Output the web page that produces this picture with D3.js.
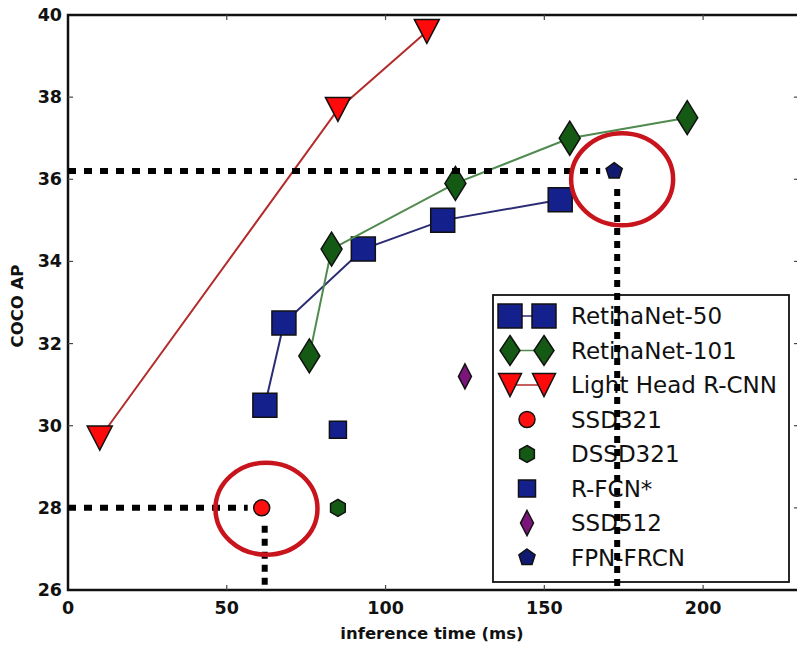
<!DOCTYPE html>
<meta charset="utf-8">
<style>
body { margin: 0; background: #fff; }
text { font-family: "DejaVu Sans", sans-serif; fill: #111; }
.tick-label { font-size: 17.5px; font-weight: bold; }
.axis-title { font-size: 16.5px; font-weight: bold; }
.legend-label { font-size: 23px; }
</style>
<svg width="797" height="647"></svg>
<script src="https://d3js.org/d3.v7.min.js"></script>
<script>

// data: inference time (ms), COCO AP
var r50_time = [62, 68, 93, 118, 155],
    r50_ap   = [30.5, 32.5, 34.3, 35.0, 35.5];
var r101_time = [76, 83, 122, 158, 195],
    r101_ap   = [31.7, 34.3, 35.9, 37.0, 37.5];
var lh_time = [10, 85, 113],
    lh_ap   = [29.7, 37.7, 39.6];

var single_names = ["SSD321", "DSSD321", "R-FCN*", "SSD512", "FPN-FRCN"],
    single_time  = [61, 85, 85, 125, 172],
    single_ap    = [28.0, 28.0, 29.9, 31.2, 36.2];

var legend_names = ["RetinaNet-50", "RetinaNet-101", "Light Head R-CNN",
                    "SSD321", "DSSD321", "R-FCN*", "SSD512", "FPN-FRCN"];

var x_ticks = [0, 50, 100, 150, 200],
    y_ticks = [26, 28, 30, 32, 34, 36, 38, 40];

// the two highlighted results, and where their red rings sit
var marked    = ["SSD321", "FPN-FRCN"],
    ring_time = [62.5, 174.5],
    ring_ap   = [27.98, 36.0];

var svg = d3.select("svg");

var x = d3.scaleLinear().domain([0, 230.2]).range([68, 799]),
    y = d3.scaleLinear().domain([26, 40]).range([590, 15]);

// marker shapes
function square(s) { return "M" + (-s/2) + "," + (-s/2) + "h" + s + "v" + s + "h" + (-s) + "Z"; }
function thinDiamond(w, h) { return "M0," + (-h/2) + "L" + (w/2) + ",0L0," + (h/2) + "L" + (-w/2) + ",0Z"; }
function triDown(w, h) { return "M" + (-w/2) + "," + (-h/2) + "L" + (w/2) + "," + (-h/2) + "L0," + (h/2) + "Z"; }
function poly(n, r, rot) {
  var p = [];
  for (var i = 0; i < n; i++) {
    var a = rot + i * 2 * Math.PI / n;
    p.push([r * Math.cos(a), r * Math.sin(a)]);
  }
  return "M" + p.map(function(d) { return d[0].toFixed(2) + "," + d[1].toFixed(2); }).join("L") + "Z";
}
function circle(r) { return "M" + r + ",0A" + r + "," + r + " 0 1,1 " + (-r) + ",0A" + r + "," + r + " 0 1,1 " + r + ",0Z"; }

var styles = {
  "RetinaNet-50":     { d: square(24),          fill: "#14208c", line: "#2c2c74" },
  "RetinaNet-101":    { d: thinDiamond(21, 34), fill: "#145a14", line: "#4f8a4f" },
  "Light Head R-CNN": { d: triDown(25, 24),     fill: "#ff0a0a", line: "#b32b2b" },
  "SSD321":           { d: circle(8),           fill: "#ff1010" },
  "DSSD321":          { d: poly(6, 8.5, -Math.PI/2), fill: "#145a14" },
  "R-FCN*":           { d: square(17),          fill: "#14208c" },
  "SSD512":           { d: thinDiamond(13, 25), fill: "#7a167a" },
  "FPN-FRCN":         { d: poly(5, 8.5, -Math.PI/2), fill: "#101a70" }
};
var legend_d = {
  "RetinaNet-50": square(24), "RetinaNet-101": thinDiamond(20, 30),
  "Light Head R-CNN": triDown(23, 23)
};

// spines
svg.append("rect")
    .attr("x", x(0)).attr("y", y(40))
    .attr("width", x(230.2) - x(0)).attr("height", y(26) - y(40))
    .attr("fill", "none").attr("stroke", "#111").attr("stroke-width", 2.5);

// inside ticks on all four sides
x_ticks.slice(1).forEach(function(t) {
  svg.append("line").attr("x1", x(t)).attr("x2", x(t)).attr("y1", y(26)).attr("y2", y(26) - 5)
      .attr("stroke", "#444").attr("stroke-width", 1.2);
  svg.append("line").attr("x1", x(t)).attr("x2", x(t)).attr("y1", y(40)).attr("y2", y(40) + 5)
      .attr("stroke", "#444").attr("stroke-width", 1.2);
});
y_ticks.slice(1, -1).forEach(function(t) {
  svg.append("line").attr("x1", x(0)).attr("x2", x(0) + 5).attr("y1", y(t)).attr("y2", y(t))
      .attr("stroke", "#444").attr("stroke-width", 1.2);
  svg.append("line").attr("x1", x(230.2)).attr("x2", x(230.2) - 5).attr("y1", y(t)).attr("y2", y(t))
      .attr("stroke", "#444").attr("stroke-width", 1.2);
});

svg.selectAll(".xl").data(x_ticks).enter().append("text")
    .attr("class", "tick-label")
    .attr("x", function(d) { return x(d); }).attr("y", 614)
    .attr("text-anchor", "middle")
    .text(function(d) { return d; });

svg.selectAll(".yl").data(y_ticks).enter().append("text")
    .attr("class", "tick-label")
    .attr("x", 62).attr("y", function(d) { return y(d) + 6; })
    .attr("text-anchor", "end")
    .text(function(d) { return d; });

svg.append("text").attr("class", "axis-title")
    .attr("x", 432).attr("y", 639).attr("text-anchor", "middle")
    .text("inference time (ms)");

svg.append("text").attr("class", "axis-title")
    .attr("transform", "translate(23,306) rotate(-90)").attr("text-anchor", "middle")
    .text("COCO AP");

// connected series
var series = [
  { name: "RetinaNet-50", t: r50_time, ap: r50_ap },
  { name: "RetinaNet-101", t: r101_time, ap: r101_ap },
  { name: "Light Head R-CNN", t: lh_time, ap: lh_ap }
];

var line = d3.line().x(function(d) { return x(d[0]); }).y(function(d) { return y(d[1]); });

series.forEach(function(s) {
  var pts = d3.zip(s.t, s.ap);
  svg.append("path").datum(pts).attr("d", line)
      .attr("fill", "none").attr("stroke", styles[s.name].line).attr("stroke-width", 2);
  svg.selectAll(null).data(pts).enter().append("path")
      .attr("transform", function(d) { return "translate(" + x(d[0]) + "," + y(d[1]) + ")"; })
      .attr("d", styles[s.name].d)
      .attr("fill", styles[s.name].fill).attr("stroke", "#111").attr("stroke-width", 1.5);
});

single_names.forEach(function(n, i) {
  svg.append("path")
      .attr("transform", "translate(" + x(single_time[i]) + "," + y(single_ap[i]) + ")")
      .attr("d", styles[n].d)
      .attr("fill", styles[n].fill).attr("stroke", "#111").attr("stroke-width", 1.5);
});

// legend
var lg = svg.append("g");
lg.append("rect").attr("x", 493).attr("y", 295).attr("width", 296).attr("height", 287)
    .attr("fill", "#fff").attr("stroke", "#111").attr("stroke-width", 1.8);

legend_names.forEach(function(n, i) {
  var cy = 316 + i * 34.5;
  if (legend_d[n]) {
    lg.append("line").attr("x1", 510).attr("x2", 544).attr("y1", cy).attr("y2", cy)
        .attr("stroke", styles[n].line).attr("stroke-width", 1.5);
    [510, 544].forEach(function(cx) {
      lg.append("path").attr("transform", "translate(" + cx + "," + cy + ")")
          .attr("d", legend_d[n])
          .attr("fill", styles[n].fill).attr("stroke", "#111").attr("stroke-width", 1.5);
    });
  } else {
    lg.append("path").attr("transform", "translate(527," + cy + ")")
        .attr("d", styles[n].d)
        .attr("fill", styles[n].fill).attr("stroke", "#111").attr("stroke-width", 1.5);
  }
  lg.append("text").attr("class", "legend-label")
      .attr("x", 571).attr("y", cy + 8).text(n);
});

// dotted guide lines and red rings around the marked results
marked.forEach(function(n, k) {
  var i = single_names.indexOf(n),
      px = x(single_time[i]), py = y(single_ap[i]);
  svg.append("line").attr("x1", x(0)).attr("x2", px - 14).attr("y1", py).attr("y2", py)
      .attr("stroke", "#000").attr("stroke-width", 6).attr("stroke-dasharray", "8,8");
  svg.append("line").attr("x1", px + 3).attr("x2", px + 3).attr("y1", py + 18).attr("y2", y(26))
      .attr("stroke", "#000").attr("stroke-width", 6).attr("stroke-dasharray", "7,6");
  svg.append("ellipse").attr("cx", x(ring_time[k])).attr("cy", y(ring_ap[k]))
      .attr("rx", 51).attr("ry", 46)
      .attr("fill", "none").attr("stroke", "#c8141c").attr("stroke-width", 4.5);
});

</script>
